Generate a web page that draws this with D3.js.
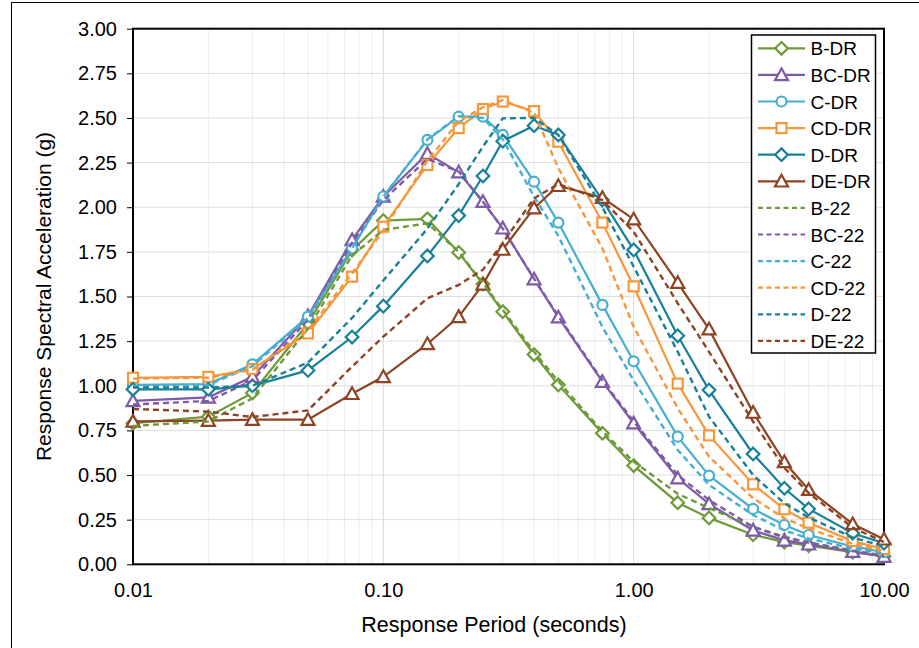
<!DOCTYPE html>
<html>
<head>
<meta charset="utf-8">
<script src="https://cdn.jsdelivr.net/npm/d3@7"></script>
<style>
  html, body { margin: 0; padding: 0; background: #fff; }
  svg { display: block; font-family: "Liberation Sans", Arial, sans-serif; }
</style>
</head>
<body>
<svg id="chart" width="919" height="648"></svg>
<script>
const periods = [0.01,0.02,0.03,0.05,0.075,0.1,0.15,0.2,0.25,0.3,0.4,0.5,0.75,1,1.5,2,3,4,5,7.5,10];

const bDR  = [0.79,0.827,0.96,1.35,1.76,1.925,1.935,1.746,1.57,1.415,1.175,1.005,0.734,0.553,0.345,0.26,0.166,0.124,0.105,0.068,0.045];
const bcDR = [0.915,0.935,1.05,1.39,1.817,2.06,2.30,2.196,2.031,1.882,1.597,1.384,1.023,0.79,0.482,0.338,0.19,0.134,0.112,0.071,0.043];
const cDR  = [1.005,1.01,1.12,1.387,1.77,2.06,2.377,2.507,2.507,2.405,2.143,1.914,1.453,1.137,0.715,0.497,0.31,0.22,0.164,0.10,0.068];
const cdDR = [1.045,1.05,1.094,1.293,1.611,1.891,2.237,2.443,2.55,2.592,2.538,2.367,1.914,1.557,1.012,0.722,0.448,0.308,0.233,0.13,0.085];
const dDR  = [0.98,0.98,1.00,1.086,1.273,1.446,1.727,1.953,2.175,2.37,2.457,2.405,2.04,1.761,1.28,0.976,0.618,0.426,0.31,0.174,0.118];
const deDR = [0.80,0.805,0.81,0.81,0.955,1.05,1.234,1.386,1.568,1.763,1.995,2.12,2.053,1.933,1.577,1.317,0.85,0.573,0.418,0.226,0.14];

const b22  = [0.775,0.80,0.93,1.32,1.73,1.873,1.91,1.75,1.575,1.425,1.19,1.025,0.745,0.575,0.395,0.315,0.21,0.155,0.122,0.075,0.05];
const bc22 = [0.895,0.915,1.03,1.37,1.80,2.04,2.27,2.20,2.03,1.88,1.60,1.39,1.03,0.80,0.50,0.36,0.21,0.15,0.122,0.076,0.047];
const c22  = [1.00,1.005,1.11,1.38,1.77,2.06,2.38,2.51,2.50,2.38,2.06,1.84,1.33,1.03,0.64,0.445,0.276,0.19,0.145,0.088,0.06];
const cd22 = [1.04,1.045,1.09,1.31,1.63,1.87,2.26,2.48,2.56,2.60,2.53,2.22,1.77,1.33,0.874,0.603,0.37,0.258,0.20,0.115,0.075];
const d22  = [0.99,0.99,1.00,1.13,1.38,1.59,1.88,2.13,2.34,2.498,2.50,2.405,2.00,1.667,1.19,0.827,0.50,0.342,0.262,0.15,0.10];
const de22 = [0.87,0.855,0.825,0.862,1.107,1.275,1.49,1.565,1.65,1.80,2.05,2.13,2.04,1.863,1.462,1.19,0.80,0.54,0.40,0.205,0.125];

const seriesNames = ["B-DR","BC-DR","C-DR","CD-DR","D-DR","DE-DR","B-22","BC-22","C-22","CD-22","D-22","DE-22"];
const seriesValues = [bDR,bcDR,cDR,cdDR,dDR,deDR,b22,bc22,c22,cd22,d22,de22];
const colors = ["#6f9a3a","#7d5ba6","#46aed0","#f7973c","#18809a","#8e4322"];
const markerTypes = ["diamond","triangle","circle","square","diamond","triangle"];

const xTickValues = [0.01,0.1,1,10];
const xTickLabels = ["0.01","0.10","1.00","10.00"];
const yTickValues = [0,0.25,0.5,0.75,1,1.25,1.5,1.75,2,2.25,2.5,2.75,3];

const svg = d3.select("#chart");
const L = 133, R = 884, T = 28.7, B = 564.3;
const FONT = "'Liberation Sans', Arial, sans-serif";

const x = d3.scaleLog().domain([0.01,10]).range([L,R]);
const y = d3.scaleLinear().domain([0,3]).range([B,T]);

// outer frame
svg.append("rect").attr("x",11.5).attr("y",2.5).attr("width",1000).attr("height",1000)
  .attr("fill","none").attr("stroke","#000").attr("stroke-width",1);

// minor vertical grid
const minor = [];
[0.01,0.1,1].forEach(d => { for (let k=2;k<=9;k++) minor.push(d*k); });
svg.append("g").selectAll("line").data(minor).join("line")
  .attr("x1",d=>x(d)).attr("x2",d=>x(d)).attr("y1",T).attr("y2",B)
  .attr("stroke","#eeeeee").attr("stroke-width",1);
// major vertical grid
svg.append("g").selectAll("line").data([0.1,1]).join("line")
  .attr("x1",d=>x(d)).attr("x2",d=>x(d)).attr("y1",T).attr("y2",B)
  .attr("stroke","#d9d9d9").attr("stroke-width",1);
// horizontal grid
svg.append("g").selectAll("line").data(yTickValues).join("line")
  .attr("x1",L).attr("x2",R).attr("y1",d=>y(d)).attr("y2",d=>y(d))
  .attr("stroke","#dedede").attr("stroke-width",1);

// y axis
const yAxis = d3.axisLeft(y).tickValues(yTickValues).tickFormat(d3.format(".2f")).tickSize(6).tickPadding(10);
const gy = svg.append("g").attr("transform",`translate(${L},0)`).call(yAxis);
gy.select(".domain").remove();
gy.selectAll(".tick line").attr("stroke","#000").attr("stroke-width",1);
gy.selectAll(".tick text").attr("font-size",20).attr("fill","#000").attr("font-family",FONT);

// x axis
const xAxis = d3.axisBottom(x).tickValues(xTickValues).tickFormat((d,i)=>xTickLabels[i]).tickSize(0).tickPadding(19);
const gx = svg.append("g").attr("transform",`translate(0,${B})`).call(xAxis);
gx.select(".domain").remove();
gx.selectAll(".tick text").attr("font-size",20).attr("fill","#000").attr("font-family",FONT);

// plot box
svg.append("rect").attr("x",L).attr("y",T).attr("width",R-L).attr("height",B-T)
  .attr("fill","none").attr("stroke","#000").attr("stroke-width",2);

// axis titles
svg.append("text").attr("x",494).attr("y",632).attr("text-anchor","middle")
  .attr("font-size",21.5).text("Response Period (seconds)");
svg.append("text").attr("transform",`translate(51,${(T+B)/2}) rotate(-90)`).attr("text-anchor","middle")
  .attr("font-size",21).text("Response Spectral Acceleration (g)");

const line = d3.line().x(d=>x(d[0])).y(d=>y(d[1]));

function drawMarker(g, type, cx, cy, color) {
  let el;
  if (type === "diamond") {
    const s = 6.3;
    el = g.append("path").attr("d",`M${cx},${cy-s}L${cx+s},${cy}L${cx},${cy+s}L${cx-s},${cy}Z`);
  } else if (type === "triangle") {
    const s = 6.5;
    el = g.append("path").attr("d",`M${cx},${cy-s}L${cx+s},${cy+s*0.8}L${cx-s},${cy+s*0.8}Z`);
  } else if (type === "circle") {
    el = g.append("circle").attr("cx",cx).attr("cy",cy).attr("r",5);
  } else {
    const s = 5;
    el = g.append("rect").attr("x",cx-s).attr("y",cy-s).attr("width",2*s).attr("height",2*s);
  }
  el.attr("fill","#fff").attr("stroke",color).attr("stroke-width",2.2);
}

const plot = svg.append("g");
// DR series (solid with markers)
for (let i=0;i<6;i++) {
  const pts = periods.map((p,j)=>[p,seriesValues[i][j]]);
  const g = plot.append("g");
  g.append("path").attr("d",line(pts)).attr("fill","none").attr("stroke",colors[i]).attr("stroke-width",2.2);
  pts.forEach(p => drawMarker(g, markerTypes[i], x(p[0]), y(p[1]), colors[i]));
}
// 22 series (dashed)
for (let i=0;i<6;i++) {
  const pts = periods.map((p,j)=>[p,seriesValues[6+i][j]]);
  plot.append("path").attr("d",line(pts)).attr("fill","none").attr("stroke",colors[i])
    .attr("stroke-width",2.4).attr("stroke-dasharray","6,4");
}

// legend
const lg = svg.append("g");
lg.append("rect").attr("x",751.5).attr("y",35).attr("width",124).attr("height",318)
  .attr("fill","#fff").attr("stroke","#000").attr("stroke-width",1.5);
seriesNames.forEach((name,i) => {
  const cy = 48.3 + i*26.6;
  const ci = i % 6;
  const g = lg.append("g");
  g.append("line").attr("x1",758).attr("x2",805).attr("y1",cy).attr("y2",cy)
    .attr("stroke",colors[ci]).attr("stroke-width",2.2)
    .attr("stroke-dasharray", i>=6 ? "5,3.5" : null);
  if (i < 6) drawMarker(g, markerTypes[ci], 781.5, cy, colors[ci]);
  g.append("text").attr("x",810.5).attr("y",cy+7).attr("font-size",19).attr("fill","#000").text(name);
});
</script>
</body>
</html>
